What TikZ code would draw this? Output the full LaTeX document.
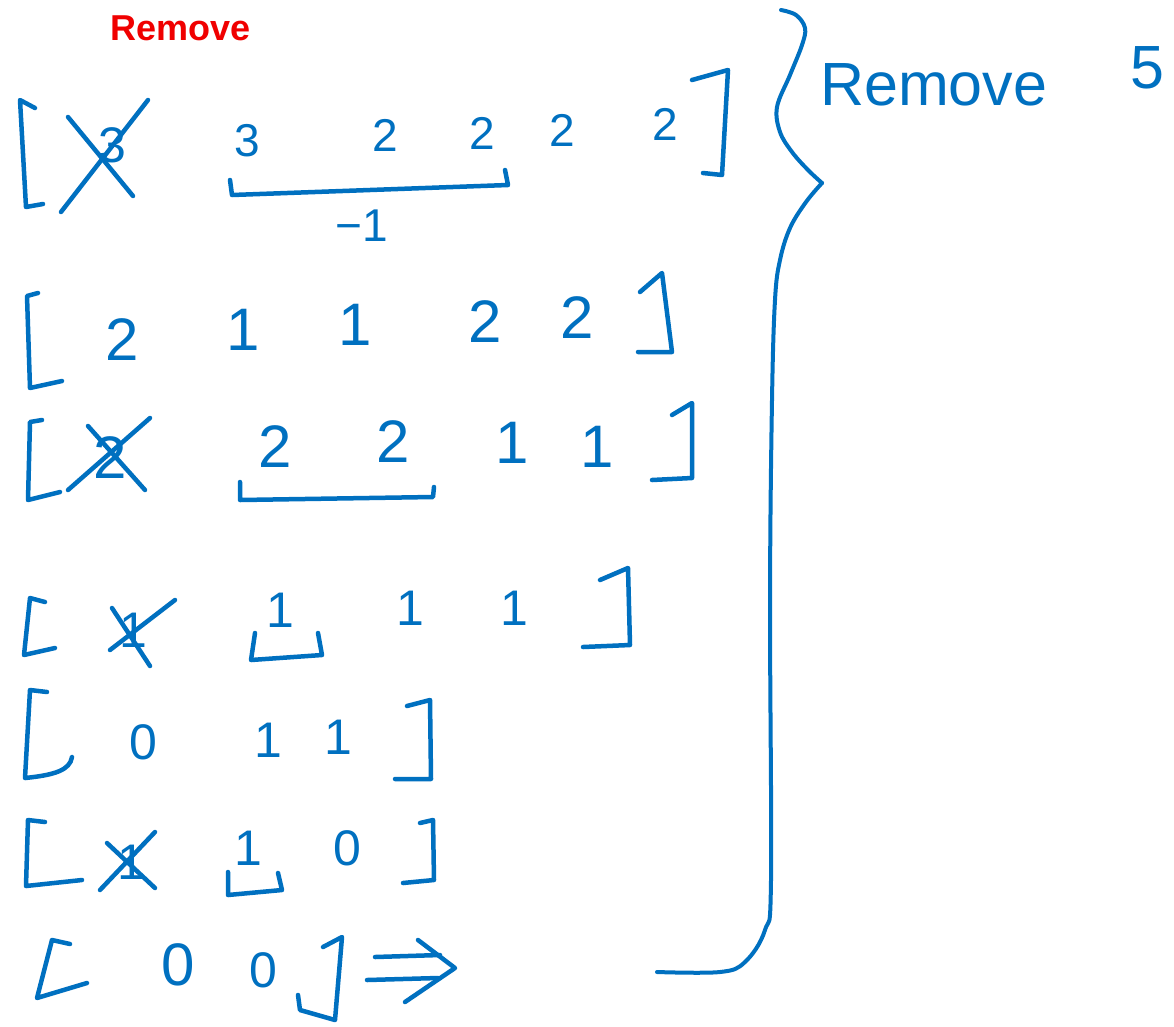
\documentclass[tikz,border=0pt]{standalone}
\usepackage{fontspec}
\setmainfont{Liberation Sans}
\usetikzlibrary{arrows.meta,positioning,calc}
\definecolor{ink}{HTML}{0070C0}
\definecolor{redink}{HTML}{F00000}
\tikzset{
  pen/.style={draw=ink,line width=4.5pt,line cap=round,line join=round},
  digit/.style={text=ink,inner sep=0pt,font=\fontsize{50}{50}\selectfont},
  bigdigit/.style={digit,font=\fontsize{60}{60}\selectfont},
  smalldigit/.style={digit,font=\fontsize{46}{46}\selectfont},
  word/.style={text=ink,inner sep=0pt,font=\fontsize{61}{61}\selectfont},
  redword/.style={text=redink,inner sep=0pt,font=\bfseries\fontsize{36}{36}\selectfont}
}
\begin{document}
\begin{tikzpicture}[x=1pt,y=-1pt]
  \useasboundingbox[fill=white] (0,0) rectangle (1174,1026);

  \node[redword,anchor=base west] (remtop) at (110,40) {Remove};

  % row 1
  \draw[pen] (35,108) -- (20,100) -- (26,207) -- (43,204);
  \node[digit] (r1x) at (112,145) {3};
  \draw[pen] (68,117) -- (133,196);
  \draw[pen] (148,100) -- (61,212);
  \node[smalldigit] (r1a) at (247,141) {3};
  \node[smalldigit] (r1b) at (385,135) {2};
  \node[smalldigit] (r1c) at (482,133) {2};
  \node[smalldigit] (r1d) at (562,130) {2};
  \node[smalldigit] (r1e) at (665,124) {2};
  \draw[pen] (692,80) -- (728,70) -- (722,175) -- (703,173);
  \draw[pen] (230,180) -- (232,195) -- (508,185) -- (505,170);
  \node[smalldigit] (r1m) at (362,226) {−1};

  % row 2
  \draw[pen] (38,293) -- (27,296) -- (30,388) -- (62,381);
  \node[bigdigit] (r2a) at (122,340) {2};
  \node[bigdigit] (r2b) at (243,330) {1};
  \node[bigdigit] (r2c) at (355,325) {1};
  \node[bigdigit] (r2d) at (485,322) {2};
  \node[bigdigit] (r2e) at (577,318) {2};
  \draw[pen] (640,292) -- (662,273) -- (672,352) -- (638,352);

  % row 3
  \draw[pen] (42,420) -- (30,422) -- (28,500) -- (60,492);
  \node[bigdigit] (r3x) at (110,458) {2};
  \draw[pen] (88,426) -- (145,490);
  \draw[pen] (150,418) -- (68,490);
  \node[bigdigit] (r3a) at (275,447) {2};
  \node[bigdigit] (r3b) at (393,442) {2};
  \draw[pen] (240,482) -- (240,500) -- (433,497) -- (434,487);
  \node[bigdigit] (r3c) at (512,443) {1};
  \node[bigdigit] (r3d) at (597,447) {1};
  \draw[pen] (672,415) -- (692,403) -- (692,478) -- (652,480);

  % row 4
  \draw[pen] (45,602) -- (30,598) -- (24,655) -- (55,648);
  \node[digit] (r4x) at (133,630) {1};
  \draw[pen] (110,650) -- (175,600);
  \draw[pen] (112,608) -- (150,666);
  \node[digit] (r4a) at (280,610) {1};
  \draw[pen] (255,633) -- (251,660) -- (322,655) -- (318,633);
  \node[digit] (r4b) at (410,608) {1};
  \node[digit] (r4c) at (514,608) {1};
  \draw[pen] (600,580) -- (628,568) -- (630,645) -- (583,647);

  % row 5
  \draw[pen] (47,692) -- (30,690) -- (25,778) .. controls (55,775) and (70,770) .. (72,757);
  \node[digit] (r5a) at (143,742) {0};
  \node[digit] (r5b) at (268,740) {1};
  \node[digit] (r5c) at (338,737) {1};
  \draw[pen] (407,706) -- (430,700) -- (431,779) -- (395,779);

  % row 6
  \draw[pen] (45,822) -- (28,820) -- (26,886) -- (82,880);
  \node[digit] (r6x) at (131,862) {1};
  \draw[pen] (107,843) -- (155,888);
  \draw[pen] (155,832) -- (100,890);
  \node[digit] (r6a) at (248,848) {1};
  \draw[pen] (228,872) -- (228,895) -- (282,890) -- (278,873);
  \node[digit] (r6b) at (347,848) {0};
  \draw[pen] (420,823) -- (433,820) -- (434,880) -- (403,883);

  % row 7
  \draw[pen] (70,944) -- (52,940) -- (37,998) -- (87,983);
  \node[bigdigit] (r7a) at (178,965) {0};
  \node[digit] (r7b) at (263,970) {0};
  \draw[pen] (323,947) -- (342,937) -- (335,1020) -- (300,1010) -- (298,995);
  \draw[pen] (375,957) -- (440,955);
  \draw[pen] (367,980) -- (438,978);
  \draw[pen] (418,940) -- (455,968) -- (405,1002);

  % brace
  \draw[pen,line width=4pt] plot[smooth,tension=0.6] coordinates {(781,10) (796,15) (805,28) (802,45) (790,75) (777,107) (780,132) (792,152) (808,170) (822,183)};
  \draw[pen,line width=4pt] plot[smooth,tension=0.6] coordinates {(822,183) (806,202) (790,228) (780,260) (775,300) (772,400) (770,600) (771,880) (765,930) (745,962) (720,972) (657,972)};

  \node[word,anchor=base west] (remright) at (820,105) {Remove};
  \node[word] (five) at (1147,68) {5};
\end{tikzpicture}
\end{document}
